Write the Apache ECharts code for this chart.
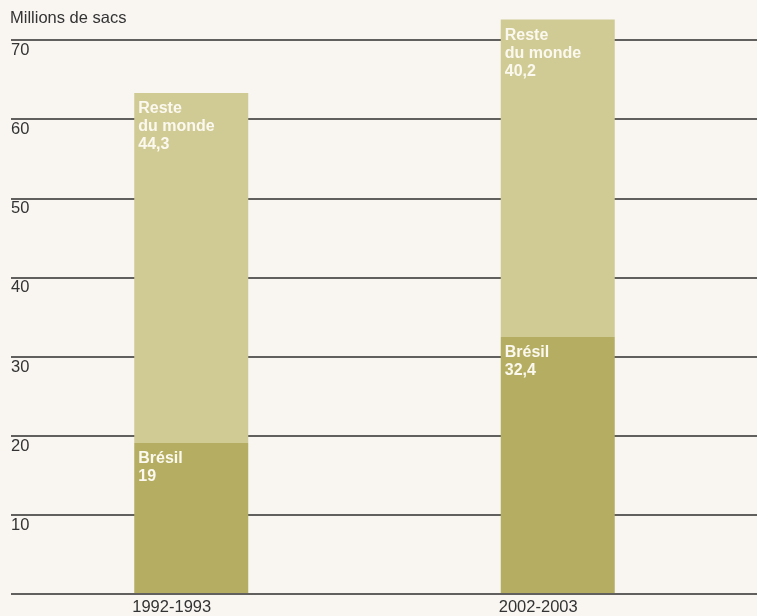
<!DOCTYPE html>
<html>
<head>
<meta charset="utf-8">
<script src="https://cdn.jsdelivr.net/npm/echarts@6/dist/echarts.min.js"></script>
<style>
  html, body { margin: 0; padding: 0; background: #f9f6f2; }
  #chart { width: 757px; height: 616px; }
</style>
</head>
<body>
<div id="chart"></div>
<script>
const categories = ['1992-1993', '2002-2003'];
const bresil = [19, 32.4];
const resteDuMonde = [44.3, 40.2];
const yTicks = [0, 10, 20, 30, 40, 50, 60, 70];

const FONT = '"Liberation Sans", Arial, sans-serif';
const fmt = v => String(v).replace('.', ',');

const chart = echarts.init(document.getElementById('chart'), null, { renderer: 'canvas' });
chart.setOption({
  backgroundColor: '#f9f6f2',
  animation: false,
  title: {
    text: 'Millions de sacs',
    left: 10, top: 10, padding: 0,
    textStyle: { fontFamily: FONT, fontSize: 16.5, fontWeight: 'normal', color: '#333' }
  },
  grid: [
    { left: 11, right: 0, top: 40, bottom: 22 },
    { left: 8, width: 733, top: 40, bottom: 22 }
  ],
  xAxis: [
    { gridIndex: 0, type: 'category', data: categories, show: false },
    {
      gridIndex: 1, type: 'category', data: categories,
      axisLine: { show: false }, axisTick: { show: false },
      axisLabel: {
        margin: 6, fontFamily: FONT, fontSize: 16.5, color: '#333',
        align: 'left', padding: [0, 0, 0, -59]
      }
    }
  ],
  yAxis: [
    {
      gridIndex: 0, type: 'value', min: yTicks[0], max: yTicks[yTicks.length - 1], interval: 10,
      axisLine: { show: false }, axisTick: { show: false },
      splitLine: { show: true, lineStyle: { color: '#2e2e2e', width: 1.6 } },
      axisLabel: {
        inside: true, margin: 0, align: 'left', verticalAlign: 'top', padding: [2, 0, 0, 0],
        fontFamily: FONT, fontSize: 16.5, color: '#333',
        formatter: v => (v === 0 ? '' : String(v))
      }
    },
    { gridIndex: 1, type: 'value', min: yTicks[0], max: yTicks[yTicks.length - 1], interval: 10, show: false, splitLine: { show: false } }
  ],
  series: [
    {
      name: 'Brésil', type: 'bar', stack: 'total', xAxisIndex: 1, yAxisIndex: 1,
      data: bresil, barWidth: 114, clip: false,
      itemStyle: { color: '#b5ae62' },
      label: {
        show: true, position: [4, 7], align: 'left', verticalAlign: 'top',
        fontFamily: FONT, fontSize: 16, fontWeight: 'bold', lineHeight: 18, color: '#fbf9ef',
        formatter: p => 'Brésil\n' + fmt(p.value)
      }
    },
    {
      name: 'Reste du monde', type: 'bar', stack: 'total', xAxisIndex: 1, yAxisIndex: 1,
      data: resteDuMonde, barWidth: 114, clip: false,
      itemStyle: { color: '#d0ca94' },
      label: {
        show: true, position: [4, 7], align: 'left', verticalAlign: 'top',
        fontFamily: FONT, fontSize: 16, fontWeight: 'bold', lineHeight: 18, color: '#fbf9ef',
        formatter: p => 'Reste\ndu monde\n' + fmt(p.value)
      }
    }
  ]
});
</script>
</body>
</html>
